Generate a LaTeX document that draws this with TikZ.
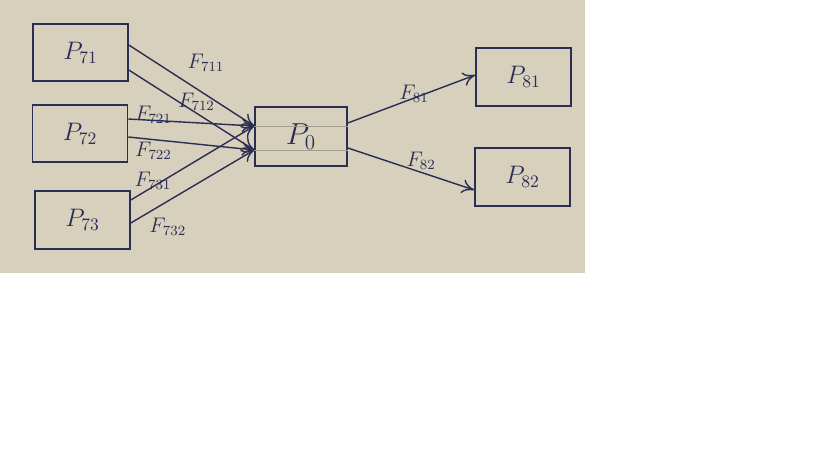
\documentclass[tikz,border=0pt]{standalone}
\usepackage{amsmath,amssymb}
\usetikzlibrary{arrows,arrows.meta}
\definecolor{paper}{RGB}{214,208,188}
\definecolor{ink}{RGB}{42,46,84}
\definecolor{rule}{RGB}{160,158,140}
\begin{document}
\begin{tikzpicture}[x=0.02cm,y=-0.02cm,
proc/.style={draw=ink,line width=0.9pt,text=ink,minimum width=1.9cm,minimum height=1.15cm,font=\Large},
flowlabel/.style={font=\large,text=ink,inner sep=1pt},
flow/.style={-{To[length=7pt,width=8pt]},draw=ink,line width=0.8pt}]

\useasboundingbox (0,0) rectangle (819,460);
\fill[paper] (0,0) rectangle (585,273);

\node[proc] (P71) at (80.5,52.5) {$P_{71}$};

\node[proc] (P72) at (80,133.5) {$P_{72}$};

\node[proc] (P73) at (82.5,220) {$P_{73}$};

\node[proc,minimum width=1.84cm,minimum height=1.18cm,font=\LARGE] (P0) at (301,136.5) {$P_{0}$};

\node[proc] (P81) at (523.5,77) {$P_{81}$};

\node[proc] (P82) at (522.5,177) {$P_{82}$};

\draw[rule,line width=0.4pt] ([yshift=0.21cm]P0.west) -- ([yshift=0.21cm]P0.east);

\draw[rule,line width=0.4pt] ([yshift=-0.27cm]P0.west) -- ([yshift=-0.27cm]P0.east);

\draw[flow] ([yshift=0.15cm]P71.east) -- node[above right,flowlabel,pos=0.45,yshift=4pt] {$F_{711}$} ([yshift=0.21cm]P0.west);

\draw[flow] ([yshift=-0.35cm]P71.east) -- node[above,flowlabel,pos=0.54] {$F_{712}$} ([yshift=-0.27cm]P0.west);

\draw[flow] ([yshift=0.29cm]P72.east) -- node[above,flowlabel,pos=0.2,yshift=-3pt] {$F_{721}$} ([yshift=0.21cm]P0.west);

\draw[flow] ([yshift=-0.07cm]P72.east) -- node[below,flowlabel,pos=0.2] {$F_{722}$} ([yshift=-0.27cm]P0.west);

\draw[flow] ([yshift=0.4cm]P73.east) -- node[above,flowlabel,pos=0.18,yshift=-3pt] {$F_{731}$} ([yshift=0.21cm]P0.west);

\draw[flow] ([yshift=-0.06cm]P73.east) -- node[below,flowlabel,pos=0.3,yshift=-8pt] {$F_{732}$} ([yshift=-0.27cm]P0.west);

\draw[flow] ([yshift=0.27cm]P0.east) -- node[above,flowlabel,pos=0.52,yshift=-4pt] {$F_{81}$} ([yshift=0.04cm]P81.west);

\draw[flow] ([yshift=-0.23cm]P0.east) -- node[above,flowlabel,pos=0.58] {$F_{82}$} ([yshift=-0.26cm]P82.west);

\end{tikzpicture}
\end{document}
